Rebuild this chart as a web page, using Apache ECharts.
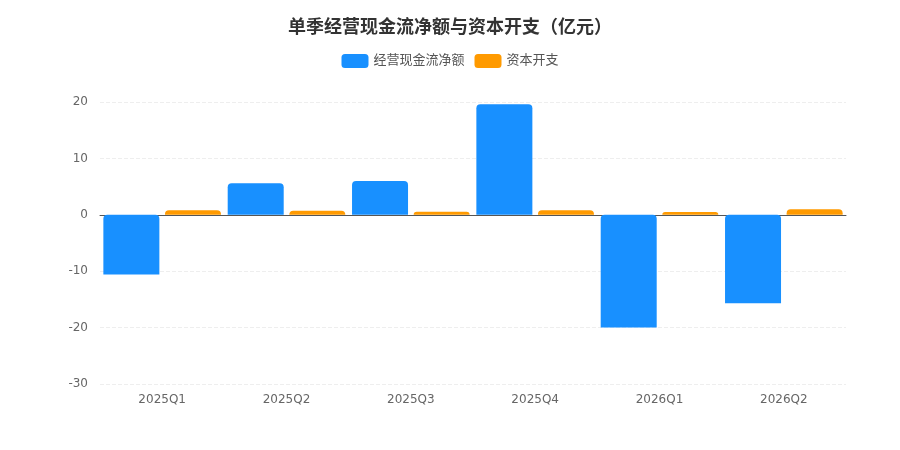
<!DOCTYPE html>
<html style="height: 100%">
<head>
    <meta charset="utf-8">
</head>
<body style="height: 100%; margin: 0">
    <div id="main" style="width: 900px; height: 450px"></div>
    <script src="https://cdn.jsdelivr.net/npm/echarts@6/dist/echarts.min.js"></script>
    <script type="text/javascript">
        var quarters = ['2025Q1', '2025Q2', '2025Q3', '2025Q4', '2026Q1', '2026Q2'];
        var operatingCash = [-10.6, 5.6, 6.0, 19.6, -20.0, -15.7];
        var capex = [0.8, 0.7, 0.55, 0.8, 0.5, 1.0];

        var myChart = echarts.init(document.getElementById('main'));

        var option = {
            backgroundColor: '#fff',
            textStyle: { fontFamily: '"DejaVu Sans", "Noto Sans CJK SC", sans-serif' },
            title: {
                text: '单季经营现金流净额与资本开支（亿元）',
                left: 'center',
                top: 14,
                textStyle: { fontSize: 18, fontWeight: 'bold', color: '#333' }
            },
            legend: {
                top: 49,
                left: 'center',
                itemWidth: 27,
                itemHeight: 14,
                itemGap: 10,
                textStyle: { fontSize: 13, color: '#555' },
                data: ['经营现金流净额', '资本开支']
            },
            grid: { left: 100, right: 54, top: 102, bottom: 66 },
            xAxis: {
                type: 'category',
                data: quarters,
                axisTick: { show: false },
                axisLine: { lineStyle: { color: '#555' } },
                axisLabel: { color: '#666', fontSize: 12, margin: 10 }
            },
            yAxis: {
                type: 'value',
                min: -30,
                max: 20,
                interval: 10,
                axisLabel: { color: '#666', fontSize: 12, margin: 12 },
                splitLine: { lineStyle: { type: 'dashed', color: '#eee' } }
            },
            series: [
                {
                    name: '经营现金流净额',
                    type: 'bar',
                    data: operatingCash,
                    barWidth: 56,
                    barGap: '10%',
                    itemStyle: { color: '#1890FF', borderRadius: [4, 4, 0, 0] }
                },
                {
                    name: '资本开支',
                    type: 'bar',
                    data: capex,
                    barWidth: 56,
                    itemStyle: { color: '#FF9A00', borderRadius: [4, 4, 0, 0] }
                }
            ]
        };

        myChart.setOption(option);
    </script>
</body>
</html>
